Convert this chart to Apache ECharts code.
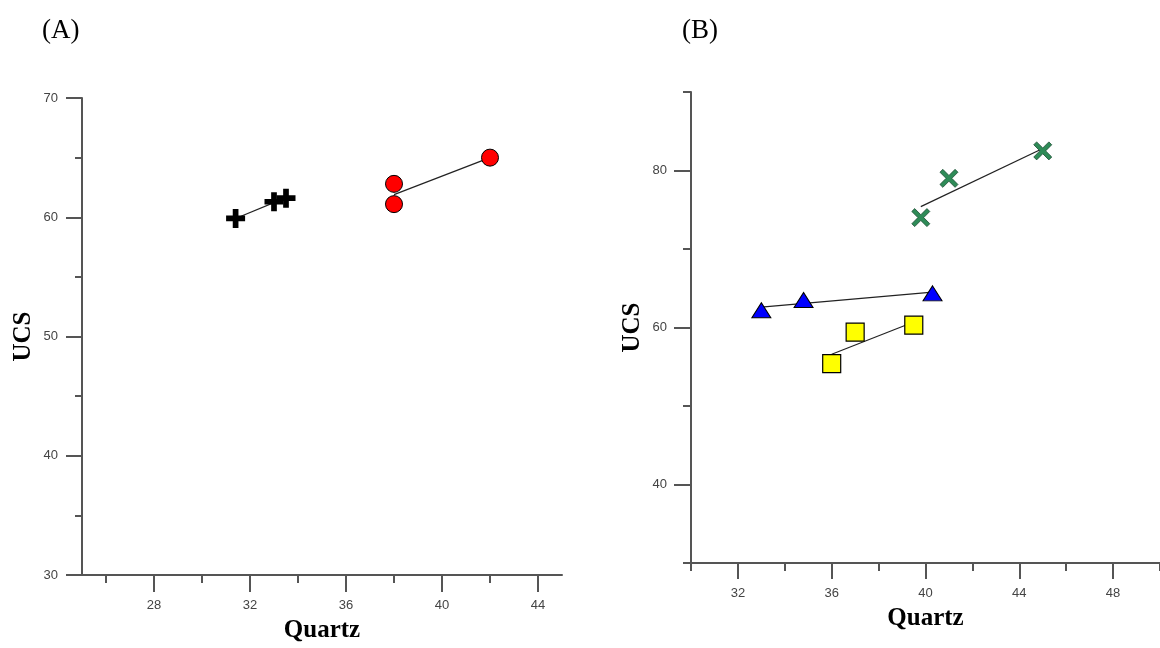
<!DOCTYPE html>
<html>
<head>
<meta charset="utf-8">
<script src="https://cdn.jsdelivr.net/npm/echarts@6/dist/echarts.min.js"></script>
<style>
html,body{margin:0;padding:0;background:#fff;}
#chart{width:1160px;height:648px;}
</style>
</head>
<body>
<div id="chart"></div>
<script>
// ---- Panel A data ----
const aCrossX = [31.4, 33.0, 33.5];
const aCrossY = [59.9, 61.3, 61.6];
const aCircleX = [38.0, 38.0, 42.0];
const aCircleY = [62.8, 61.1, 65.0];
const aCrossFitX = [31.4, 33.5];
const aCrossFitY = [59.9, 61.65];
const aCircleFitX = [38.0, 42.0];
const aCircleFitY = [61.9, 65.0];
const aXMajor = [28, 32, 36, 40, 44];
const aXMinor = [26, 30, 34, 38, 42];
const aYMajor = [30, 40, 50, 60, 70];
const aYMinor = [35, 45, 55, 65];

// ---- Panel B data ----
const bTriX = [33.0, 34.8, 40.3];
const bTriY = [62.2, 63.5, 64.35];
const bSqX = [36.0, 37.0, 39.5];
const bSqY = [55.4, 59.4, 60.3];
const bXX = [39.8, 41.0, 45.0];
const bXY = [74.0, 79.0, 82.5];
const bTriFitX = [33.0, 40.3];
const bTriFitY = [62.6, 64.5];
const bSqFitX = [36.0, 39.5];
const bSqFitY = [56.6, 60.7];
const bXFitX = [39.8, 45.0];
const bXFitY = [75.4, 82.8];
const bXMajor = [32, 36, 40, 44, 48];
const bXMinor = [30, 34, 38, 42, 46, 50];
const bYMajor = [40, 60, 80];
const bYMinor = [30, 50, 70, 90];

const zip = (xs, ys) => xs.map((x, i) => [x, ys[i]]);

const AX = '#555';
const lbl = {fontFamily: 'Liberation Sans', fontSize: 13, color: '#444', margin: 24};
const nameStyle = {fontFamily: 'Liberation Serif', fontSize: 25, fontWeight: 'bold', color: '#000'};

function majorAxis(grid, pos, min, max, ticks, len, name, gap) {
  return {
    type: 'value', gridIndex: grid, position: pos, min: min, max: max,
    axisLine: {show: true, onZero: false, lineStyle: {color: AX, width: 2}},
    axisTick: {show: true, customValues: ticks, length: len, lineStyle: {color: AX, width: 2}},
    axisLabel: Object.assign({show: true, customValues: ticks}, lbl),
    splitLine: {show: false},
    name: name, nameLocation: 'middle', nameGap: gap, nameTextStyle: nameStyle,
    nameRotate: (pos === 'left') ? 90 : 0
  };
}
function minorAxis(grid, pos, min, max, ticks, len) {
  return {
    type: 'value', gridIndex: grid, position: pos, min: min, max: max,
    axisLine: {show: false, onZero: false},
    axisTick: {show: true, customValues: ticks, length: len, lineStyle: {color: AX, width: 2}},
    axisLabel: {show: false},
    splitLine: {show: false}
  };
}

const plusPath = 'path://M35,0H65V35H100V65H65V100H35V65H0V35H35Z';
const xPath = 'path://M0,16L16,0L50,34L84,0L100,16L66,50L100,84L84,100L50,66L16,100L0,84L34,50Z';

function fit(xi, yi, xs, ys) {
  return {
    type: 'line', xAxisIndex: xi, yAxisIndex: yi, data: zip(xs, ys),
    showSymbol: false, symbol: 'none', z: 1, silent: true,
    lineStyle: {color: '#222', width: 1.2}
  };
}
function pts(xi, yi, xs, ys, symbol, size, color, border, bw) {
  return {
    type: 'scatter', xAxisIndex: xi, yAxisIndex: yi, data: zip(xs, ys),
    symbol: symbol, symbolSize: size, z: 3,
    itemStyle: {color: color, borderColor: border, borderWidth: bw, opacity: 1}
  };
}

const chart = echarts.init(document.getElementById('chart'), null, {renderer: 'canvas'});
chart.setOption({
  animation: false,
  backgroundColor: '#fff',
  title: [
    {text: '(A)', left: 42, top: 17, padding: 0,
     textStyle: {fontFamily: 'Liberation Serif', fontSize: 27, fontWeight: 'normal', color: '#000'}},
    {text: '(B)', left: 682, top: 17, padding: 0,
     textStyle: {fontFamily: 'Liberation Serif', fontSize: 27, fontWeight: 'normal', color: '#000'}}
  ],
  grid: [
    {left: 82, top: 98, width: 480, height: 479, containLabel: false},
    {left: 691, top: 92, width: 473, height: 471, containLabel: false}
  ],
  xAxis: [
    majorAxis(0, 'bottom', 25, 45, aXMajor, 17, 'Quartz', 43),
    minorAxis(0, 'bottom', 25, 45, aXMinor, 8),
    majorAxis(1, 'bottom', 30, 50, bXMajor, 16, 'Quartz', 43),
    minorAxis(1, 'bottom', 30, 50, bXMinor, 8)
  ],
  yAxis: [
    majorAxis(0, 'left', 30, 70, aYMajor, 16, 'UCS', 46),
    minorAxis(0, 'left', 30, 70, aYMinor, 7),
    majorAxis(1, 'left', 30, 90, bYMajor, 17, 'UCS', 46),
    minorAxis(1, 'left', 30, 90, bYMinor, 8)
  ],
  series: [
    fit(0, 0, aCrossFitX, aCrossFitY),
    fit(0, 0, aCircleFitX, aCircleFitY),
    pts(0, 0, aCrossX, aCrossY, plusPath, 19, '#000', '#000', 0),
    pts(0, 0, aCircleX, aCircleY, 'circle', 17, '#ff0000', '#000', 1),
    fit(2, 2, bTriFitX, bTriFitY),
    fit(2, 2, bSqFitX, bSqFitY),
    fit(2, 2, bXFitX, bXFitY),
    pts(2, 2, bTriX, bTriY, 'triangle', [19, 15], '#0000ff', '#000', 1),
    pts(2, 2, bSqX, bSqY, 'rect', 18, '#ffff00', '#000', 1.2),
    pts(2, 2, bXX, bXY, xPath, 18, '#2e8b57', '#1d4d33', 0.8)
  ]
});
</script>
</body>
</html>
